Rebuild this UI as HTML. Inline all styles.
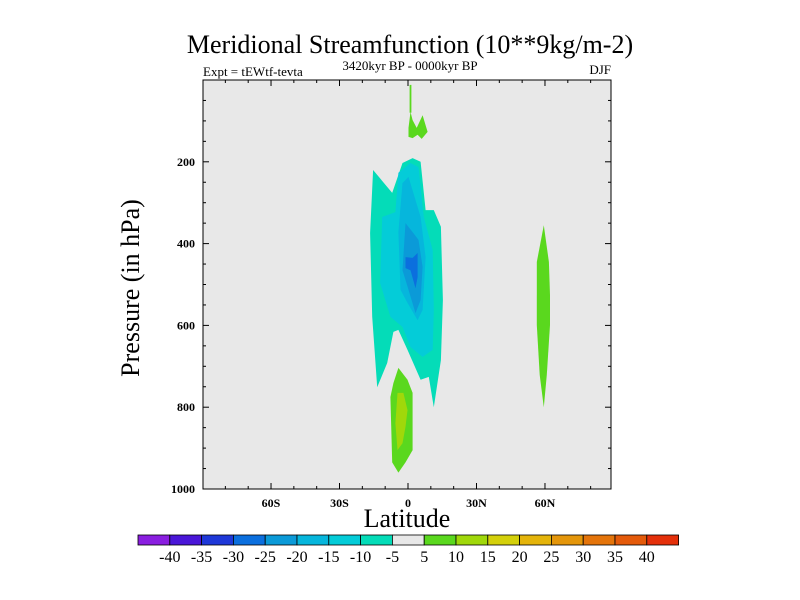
<!DOCTYPE html>
<html><head><meta charset="utf-8"><style>
body{margin:0;background:#fff}
svg{display:block;font-family:"Liberation Serif",serif}
</style></head><body>
<svg id="c" width="800" height="600" viewBox="0 0 800 600" xmlns="http://www.w3.org/2000/svg">
<text x="410" y="53" font-size="26" text-anchor="middle">Meridional Streamfunction (10**9kg/m-2)</text>
<text x="203" y="76" font-size="13">Expt = tEWtf-tevta</text>
<text x="410" y="70" font-size="13" text-anchor="middle">3420kyr BP - 0000kyr BP</text>
<text x="611" y="74" font-size="13" text-anchor="end">DJF</text>
<rect x="203" y="80" width="408" height="409" fill="#e8e8e8"/>
<g id="fills"></g>
<g id="axes"></g>
<rect x="203" y="80" width="408" height="409" fill="none" stroke="#000" stroke-width="1"/>
<text x="407" y="527" font-size="26" text-anchor="middle">Latitude</text>
<text transform="translate(139,288) rotate(-90)" font-size="26" text-anchor="middle">Pressure (in hPa)</text>
<g id="cbar"></g>
</svg>
<script>
const levelColors=["#8a1ee0","#4a16d8","#1e38d8","#0b6fde","#0b9ad8","#06b6dc","#04ccd8","#04dcb8","#e8e8e8","#5ad81e","#a0d80a","#d4d00a","#e4b40a","#e4960a","#e4740a","#e45a0a","#e4300a"];
const levelLabels=["-40","-35","-30","-25","-20","-15","-10","-5","5","10","15","20","25","30","35","40"];
const xTickLats=[-60,-30,0,30,60];
const xTickLabels=["60S","30S","0","30N","60N"];
const yTickPressures=[200,400,600,800,1000];
const regionMinus5=[[-15.3,220],[-6.9,276],[-2.4,203],[2.0,191],[5.5,200],[7.7,318],[11.3,318],[14.4,359],[15.3,538],[14.4,685],[11.3,800],[9.1,726],[5.5,733],[-0.2,660],[-4.2,611],[-6.4,616],[-9.1,692],[-13.5,751],[-15.7,579],[-16.6,374]];
const regionMinus10=[[-11.3,335],[-5.5,323],[-4.2,227],[1.1,203],[4.6,213],[6.9,335],[10.8,416],[11.3,562],[10.8,660],[6.4,677],[1.1,653],[-2.4,604],[-7.7,579],[-12.2,496]];
const regionMinus15=[[-2.4,252],[0.2,237],[5.5,335],[7.7,433],[6.4,562],[4.2,587],[-0.2,545],[-3.3,513],[-4.2,372]];
const regionMinus20=[[-1.1,350],[2.0,372],[4.6,391],[6.4,457],[5.5,538],[3.3,570],[0.2,513],[-2.4,465]];
const regionMinus25=[[-1.1,433],[2.0,435],[4.2,423],[4.2,482],[3.3,509],[1.1,465],[-1.1,460]];
const regionPlus5Low=[[-4.2,704],[-0.2,733],[2.0,765],[2.0,905],[-1.1,935],[-4.2,960],[-6.9,935],[-7.7,775],[-6.4,741]];
const regionPlus10Low=[[-4.6,765],[-2.0,765],[-0.2,807],[-1.1,848],[-2.4,888],[-4.6,905],[-5.5,839]];
const regionPlus5Top=[[0.2,117],[1.1,78],[2.0,98],[3.8,117],[6.4,86],[8.6,127],[6.0,144],[4.2,134],[2.0,142],[0.2,139]];
const regionPlus5Line=[[0.7,12],[1.5,12],[1.5,80],[0.7,80]];
const regionPlus5North=[[59.5,355],[61.7,445],[62.2,526],[62.2,599],[60.8,721],[59.5,800],[57.7,721],[56.4,599],[56.4,445]];
const regions=[[7,regionMinus5,"contour-minus5"],[6,regionMinus10,"contour-minus10"],[5,regionMinus15,"contour-minus15"],[4,regionMinus20,"contour-minus20"],[3,regionMinus25,"contour-minus25"],[9,regionPlus5Low,"contour-plus5-low"],[10,regionPlus10Low,"contour-plus10-low"],[9,regionPlus5Top,"contour-plus5-top"],[9,regionPlus5Line,"contour-plus5-line"],[9,regionPlus5North,"contour-plus5-north"]];
const NS="http://www.w3.org/2000/svg";
const X=lat=>408+lat*2.283;
const Y=p=>80+p*0.409;
function mk(tag,attrs,parent){const e=document.createElementNS(NS,tag);for(const k in attrs)e.setAttribute(k,attrs[k]);parent.appendChild(e);return e;}
const fills=document.getElementById('fills');
regions.forEach(r=>{
  const el=mk('polygon',{points:r[1].map(q=>X(q[0]).toFixed(1)+','+Y(q[1]).toFixed(1)).join(' '),fill:levelColors[r[0]]},fills);
  
  
});
const axes=document.getElementById('axes');
for(let lat=-80;lat<=80;lat+=10){
  const major=lat%30===0;const L=major?6:3;const x=X(lat);
  mk('line',{x1:x,x2:x,y1:489,y2:489-L,stroke:'#000'},axes);
  mk('line',{x1:x,x2:x,y1:80,y2:80+L,stroke:'#000'},axes);
}
xTickLats.forEach((lat,i)=>{
  const t=mk('text',{x:X(lat),y:507,'font-size':12,'font-weight':'bold','text-anchor':'middle'},axes);
  t.textContent=xTickLabels[i];
  
  
});
for(let p=50;p<1000;p+=50){
  const major=p%200===0;const L=major?6:3;const y=Y(p);
  mk('line',{x1:203,x2:203+L,y1:y,y2:y,stroke:'#000'},axes);
  mk('line',{x1:611,x2:611-L,y1:y,y2:y,stroke:'#000'},axes);
}
yTickPressures.forEach(p=>{
  const t=mk('text',{x:195,y:Y(p)+4,'font-size':12,'font-weight':'bold','text-anchor':'end'},axes);
  t.textContent=String(p);
  
  
});
const cb=document.getElementById('cbar');
const bx=138,bw=31.8;
levelColors.forEach((c,i)=>{
  const r=mk('rect',{x:bx+i*bw,y:535,width:bw,height:10,fill:c,stroke:'#000','stroke-width':0.8},cb);
  
  
});
levelLabels.forEach((l,i)=>{
  const t=mk('text',{x:bx+(i+1)*bw,y:562,'font-size':16,'text-anchor':'middle'},cb);
  t.textContent=l;
  
  
});
</script>
</body></html>
